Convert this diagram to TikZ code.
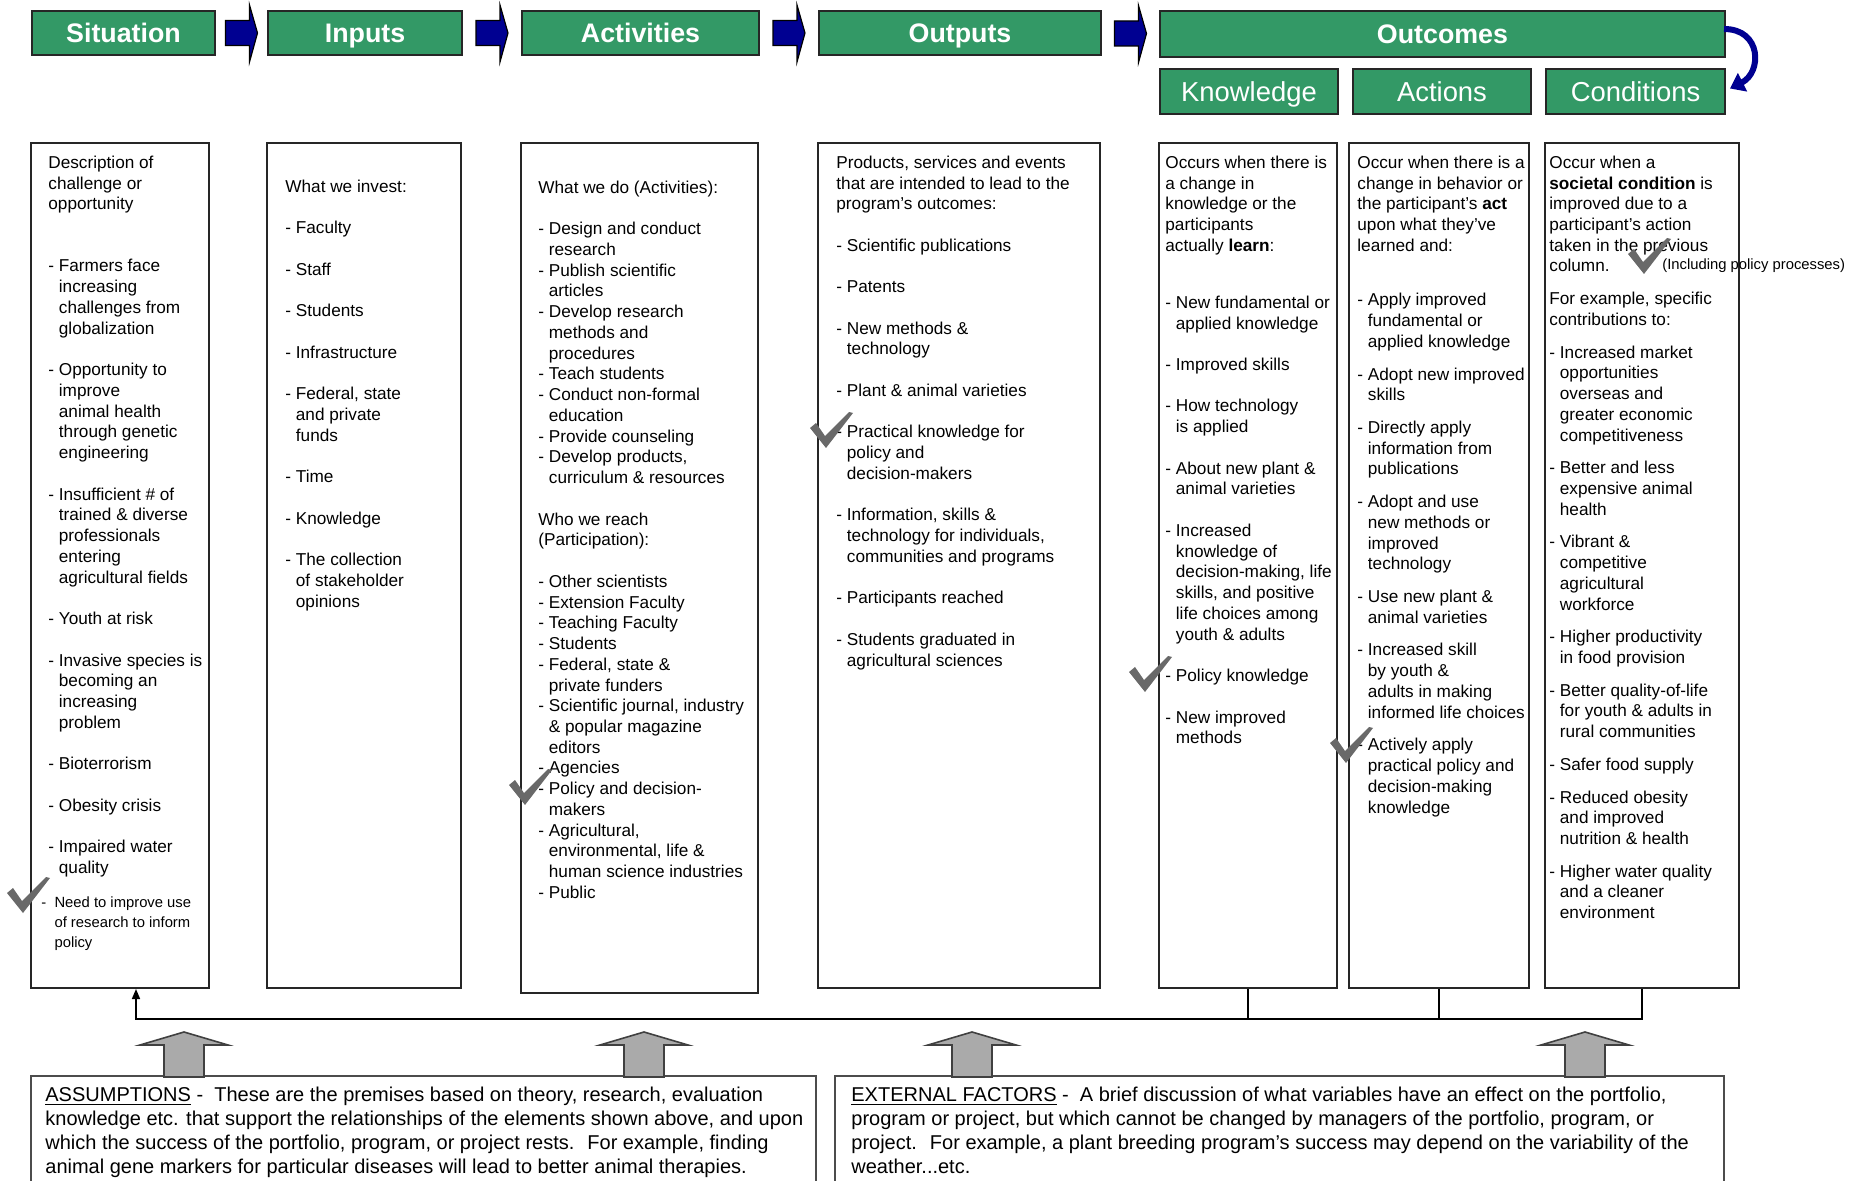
\documentclass[tikz,border=0pt]{standalone}
\usepackage{fontspec}
\setmainfont{Liberation Sans}
\usetikzlibrary{fit,calc,arrows.meta}

\definecolor{hdrgreen}{RGB}{51,153,102}
\definecolor{navyblue}{RGB}{0,0,145}
\definecolor{tickgray}{RGB}{105,105,105}
\definecolor{blockgray}{RGB}{170,170,170}

\newcommand{\dsp}{\phantom{- }}
\newcommand{\blnk}{10.37pt}
\newcommand{\pgap}{5.97pt}
% check mark, upper left corner
\newcommand{\checkat}[1]{\fill[tickgray] (#1) ++(0,16) -- ++(6,-5) -- ++(9,13) -- ++(24,-24) -- ++(4,1) -- ++(-27,35) -- cycle;}
% blue arrow between two header boxes
\newcommand{\flowarrow}[2]{\filldraw[flowarr] ($(#1.east)!0.5!(#2.west)$) ++(-16,-12.5) -- ++(24,0) -- ++(0,-15.5) -- ++(8,28) -- ++(-8,29) -- ++(0,-16.5) -- ++(-24,0) -- cycle;}
% gray arrow standing on a bottom box
\newcommand{\raiseat}[1]{\filldraw[blockarrow] (#1) ++(-20,1) -- ++(0,-32) -- ++(-24,0) -- ++(44,-13) -- ++(44,13) -- ++(-24,0) -- ++(0,32) -- cycle;}

\tikzset{
  hdr/.style={draw=black!85, line width=1pt, fill=hdrgreen, text=white,
    anchor=north west, inner sep=0pt, minimum height=22pt,
    text height=9.6pt, text depth=0pt,
    font=\fontsize{13.4}{16}\selectfont\bfseries},
  subhdr/.style={hdr, minimum height=22.5pt, text height=9.8pt,
    font=\fontsize{13.7}{16}\selectfont},
  colbox/.style={draw=black!85, line width=1pt, inner sep=0pt},
  coltext/.style={anchor=north west, align=left, inner sep=0pt,
    font=\fontsize{8.6}{10.37}\selectfont},
  notetext/.style={coltext, font=\fontsize{7.4}{10.1}\selectfont},
  bigbox/.style={draw=black!70, line width=1pt, inner sep=0pt},
  boxtext/.style={anchor=north west, align=left, inner sep=0pt,
    font=\fontsize{10}{11.9}\selectfont},
  fbline/.style={line width=0.8pt, black},
  flowarr/.style={fill=navyblue, draw=black, line width=0.6pt},
  bendarr/.style={navyblue, line width=3pt, -{Triangle[length=7pt,width=10pt]}},
  blockarrow/.style={fill=blockgray, draw=black!75, line width=0.8pt}
}

\begin{document}
\begin{tikzpicture}[x=0.5pt,y=-0.5pt]
\useasboundingbox (0,0) rectangle (1864,1181);
\clip (0,0) rectangle (1864,1181);

% Header row
\node[hdr, minimum width=91.5pt] (sit) at (31,10) {Situation};
\node[hdr, minimum width=97pt] (inp) at (267,10) {Inputs};
\node[hdr, minimum width=118.5pt] (act) at (521,10) {Activities};
\node[hdr, minimum width=141pt] (outp) at (818,10) {Outputs};
\node[hdr, minimum width=282.5pt, minimum height=23pt] (outc) at (1159,10) {Outcomes};
\node[subhdr, minimum width=89pt] (know) at (1159,68) {Knowledge};
\node[subhdr, minimum width=89pt] (actn) at (1352,68) {Actions};
\node[subhdr, minimum width=89.5pt] (cond) at (1545,68) {Conditions};

\flowarrow{sit}{inp}
\flowarrow{inp}{act}
\flowarrow{act}{outp}
\flowarrow{outp}{outc}
\draw[bendarr] ([shift={(-2,-5)}]outc.east) .. controls +(38,0) and +(32,-16) .. ([shift={(4,-3)}]cond.east);

% Columns
\node[colbox, fit={(31,143) (209,988)}] (sitcol) {};
\node[colbox, fit={(267,143) (461,988)}] (inpcol) {};
\node[colbox, fit={(521,143) (758,993)}] (actcol) {};
\node[colbox, fit={(818,143) (1100,988)}] (outcol) {};
\node[colbox, fit={(1159,143) (1337,988)}] (knowcol) {};
\node[colbox, fit={(1349,143) (1529,988)}] (actncol) {};
\node[colbox, fit={(1545,143) (1739,988)}] (condcol) {};

% Situation
\node[coltext] (sittxt) at (48,155.4) {Description of\\
challenge or\\
opportunity\\[20.74pt]
- Farmers face\\
\dsp increasing\\
\dsp challenges from\\
\dsp globalization\\[\blnk]
- Opportunity to\\
\dsp improve\\
\dsp animal health\\
\dsp through genetic\\
\dsp engineering\\[\blnk]
- Insufficient \# of\\
\dsp trained \& diverse\\
\dsp professionals\\
\dsp entering\\
\dsp agricultural fields\\[\blnk]
- Youth at risk\\[\blnk]
- Invasive species is\\
\dsp becoming an\\
\dsp increasing\\
\dsp problem\\[\blnk]
- Bioterrorism\\[\blnk]
- Obesity crisis\\[\blnk]
- Impaired water\\
\dsp quality};
\node[notetext] (sitnote) at (41,896) {- \ Need to improve use\\
\phantom{- \ }of research to inform\\
\phantom{- \ }policy};

% Inputs
\node[coltext] (inptxt) at (285,179.4) {What we invest:\\[\blnk]
- Faculty\\[\blnk]
- Staff\\[\blnk]
- Students\\[\blnk]
- Infrastructure\\[\blnk]
- Federal, state\\
\dsp and private\\
\dsp funds\\[\blnk]
- Time\\[\blnk]
- Knowledge\\[\blnk]
- The collection\\
\dsp of stakeholder\\
\dsp opinions};

% Activities
\node[coltext] (acttxt) at (538,180.4) {What we do (Activities):\\[\blnk]
- Design and conduct\\
\dsp research\\
- Publish scientific\\
\dsp articles\\
- Develop research\\
\dsp methods and\\
\dsp procedures\\
- Teach students\\
- Conduct non-formal\\
\dsp education\\
- Provide counseling\\
- Develop products,\\
\dsp curriculum \& resources\\[\blnk]
Who we reach\\
(Participation):\\[\blnk]
- Other scientists\\
- Extension Faculty\\
- Teaching Faculty\\
- Students\\
- Federal, state \&\\
\dsp private funders\\
- Scientific journal, industry\\
\dsp \& popular magazine\\
\dsp editors\\
- Agencies\\
- Policy and decision-\\
\dsp makers\\
- Agricultural,\\
\dsp environmental, life \&\\
\dsp human science industries\\
- Public};

% Outputs
\node[coltext] (outtxt) at (836,155.4) {Products, services and events\\
that are intended to lead to the\\
program’s outcomes:\\[\blnk]
- Scientific publications\\[\blnk]
- Patents\\[\blnk]
- New methods \&\\
\dsp technology\\[\blnk]
- Plant \& animal varieties\\[\blnk]
- Practical knowledge for\\
\dsp policy and\\
\dsp decision-makers\\[\blnk]
- Information, skills \&\\
\dsp technology for individuals,\\
\dsp communities and programs\\[\blnk]
- Participants reached\\[\blnk]
- Students graduated in\\
\dsp agricultural sciences};

% Knowledge
\node[coltext] (knowtxt) at (1165,155.4) {Occurs when there is\\
a change in\\
knowledge or the\\
participants\\
actually \textbf{learn}:\\[18.15pt]
- New fundamental or\\
\dsp applied knowledge\\[\blnk]
- Improved skills\\[\blnk]
- How technology\\
\dsp is applied\\[\blnk]
- About new plant \&\\
\dsp animal varieties\\[\blnk]
- Increased\\
\dsp knowledge of\\
\dsp decision-making, life\\
\dsp skills, and positive\\
\dsp life choices among\\
\dsp youth \& adults\\[\blnk]
- Policy knowledge\\[\blnk]
- New improved\\
\dsp methods};

% Actions
\node[coltext] (actntxt) at (1357,155.4) {Occur when there is a\\
change in behavior or\\
the participant’s \textbf{act}\\
upon what they’ve\\
learned and:\\[16.95pt]
- Apply improved\\
\dsp fundamental or\\
\dsp applied knowledge\\[\pgap]
- Adopt new improved\\
\dsp skills\\[\pgap]
- Directly apply\\
\dsp information from\\
\dsp publications\\[\pgap]
- Adopt and use\\
\dsp new methods or\\
\dsp improved\\
\dsp technology\\[\pgap]
- Use new plant \&\\
\dsp animal varieties\\[\pgap]
- Increased skill\\
\dsp by youth \&\\
\dsp adults in making\\
\dsp informed life choices\\[\pgap]
- Actively apply\\
\dsp practical policy and\\
\dsp decision-making\\
\dsp knowledge};

% Conditions
\node[coltext] (condtxt) at (1549,155.4) {Occur when a\\
\textbf{societal condition} is\\
improved due to a\\
participant’s action\\
taken in the previous\\
column.\\[\pgap]
For example, specific\\
contributions to:\\[\pgap]
- Increased market\\
\dsp opportunities\\
\dsp overseas and\\
\dsp greater economic\\
\dsp competitiveness\\[\pgap]
- Better and less\\
\dsp expensive animal\\
\dsp health\\[\pgap]
- Vibrant \&\\
\dsp competitive\\
\dsp agricultural\\
\dsp workforce\\[\pgap]
- Higher productivity\\
\dsp in food provision\\[\pgap]
- Better quality-of-life\\
\dsp for youth \& adults in\\
\dsp rural communities\\[\pgap]
- Safer food supply\\[\pgap]
- Reduced obesity\\
\dsp and improved\\
\dsp nutrition \& health\\[\pgap]
- Higher water quality\\
\dsp and a cleaner\\
\dsp environment};
\node[notetext, anchor=base west] (condnote) at (1662,270) {(Including policy processes)};

% Check marks
\checkat{7,877}
\checkat{509,769}
\checkat{810,412}
\checkat{1129,656}
\checkat{1330,727}
\checkat{1628,238}

% Feedback line
\coordinate (fb) at (136,1019);
\draw[fbline] (knowcol.south) -- (knowcol.south |- fb);
\draw[fbline] (actncol.south) -- (actncol.south |- fb);
\draw[fbline, -{Triangle[length=5pt,width=4pt]}] (condcol.south) |- (fb) -- (fb |- sitcol.south);

% Bottom boxes
\node[bigbox, fit={(31,1076) (816,1200)}] (assum) {};
\node[bigbox, fit={(835,1076) (1724,1200)}] (extf) {};
\raiseat{184,1076}
\raiseat{644,1076}
\raiseat{972,1076}
\raiseat{1585,1076}

\node[boxtext] (assumtxt) at (45,1087) {\underline{ASSUMPTIONS} -~ These are the premises based on theory, research, evaluation\\
knowledge etc. that support the relationships of the elements shown above, and upon\\
which the success of the portfolio, program, or project rests.~ For example, finding\\
animal gene markers for particular diseases will lead to better animal therapies.};
\node[boxtext] (extftxt) at (851,1087) {\underline{EXTERNAL FACTORS} -~ A brief discussion of what variables have an effect on the portfolio,\\
program or project, but which cannot be changed by managers of the portfolio, program, or\\
project.~ For example, a plant breeding program’s success may depend on the variability of the\\
weather...etc.};

\end{tikzpicture}
\end{document}
